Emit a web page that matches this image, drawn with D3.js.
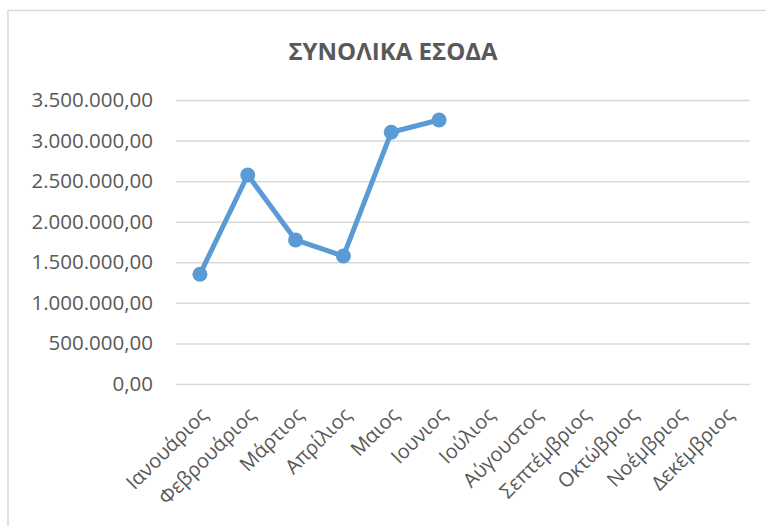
<!DOCTYPE html>
<html>
<head>
<meta charset="utf-8">
<script src="https://cdn.jsdelivr.net/npm/d3@7"></script>
<style>
  body { margin: 0; background: #fff; }
  text { font-family: "Open Sans", sans-serif; fill: #595959; }
</style>
</head>
<body>
<div id="chart"></div>
<script>
// months on the x axis
const months = ["Ιανουάριος", "Φεβρουάριος", "Μάρτιος", "Απρίλιος", "Μαιος", "Ιουνιος",
  "Ιούλιος", "Αύγουστος", "Σεπτέμβριος", "Οκτώβριος", "Νοέμβριος", "Δεκέμβριος"];

// income per month (only first six filled)
const income = [1352000, 2576000, 1775000, 1577000, 3102000, 3254000];

// y ticks
const yTicks = [0, 500000, 1000000, 1500000, 2000000, 2500000, 3000000, 3500000];

const title = "ΣΥΝΟΛΙΚΑ ΕΣΟΔΑ";

const W = 766, H = 526;
const margin = {top: 100, right: 16, bottom: 142, left: 176};

const svg = d3.select("#chart")
  .append("svg")
    .attr("width", W)
    .attr("height", H);

// chart border
svg.append("rect")
  .attr("x", 8).attr("y", 10.5)
  .attr("width", 800).attr("height", 600)
  .attr("fill", "none")
  .attr("stroke", "#d9d9d9")
  .attr("stroke-width", 1.5);

svg.append("text")
  .attr("x", 393).attr("y", 59.5)
  .attr("text-anchor", "middle")
  .attr("font-size", 24)
  .attr("font-weight", "bold")
  .text(title);

const x = d3.scaleBand()
  .domain(months)
  .range([margin.left, W - margin.right]);

const y = d3.scaleLinear()
  .domain([0, 3500000])
  .range([H - margin.bottom, margin.top]);

// greek number format: 3.500.000,00
const fmt = d3.formatLocale({decimal: ",", thousands: ".", grouping: [3], currency: ["", "€"]}).format(",.2f");

// grid + y labels
const yAxis = svg.append("g")
  .attr("transform", `translate(${margin.left},0)`)
  .call(d3.axisLeft(y).tickValues(yTicks).tickSize(-(W - margin.left - margin.right)).tickPadding(23).tickFormat(fmt));
yAxis.select(".domain").remove();
yAxis.selectAll(".tick line").attr("stroke", "#d9d9d9").attr("stroke-width", 1.5);
yAxis.selectAll(".tick text").attr("font-size", 20.5).attr("fill", "#595959")
  .attr("font-family", "Open Sans, sans-serif");

// x labels
const xAxis = svg.append("g")
  .attr("transform", `translate(0,${H - margin.bottom})`)
  .call(d3.axisBottom(x).tickSize(0));
xAxis.select(".domain").remove();
xAxis.selectAll(".tick text")
  .attr("font-size", 20)
  .attr("font-family", "Open Sans, sans-serif")
  .attr("fill", "#595959")
  .attr("text-anchor", "end")
  .attr("dy", 0)
  .attr("transform", "translate(7,30) rotate(-45)");

// line
const pts = income.map((v, i) => ({m: months[i], v: v}));
const line = d3.line()
  .x(d => x(d.m) + x.bandwidth() / 2)
  .y(d => y(d.v));

svg.append("path")
  .datum(pts)
  .attr("d", line)
  .attr("fill", "none")
  .attr("stroke", "#5b9bd5")
  .attr("stroke-width", 5)
  .attr("stroke-linejoin", "round");

svg.selectAll("circle")
  .data(pts)
  .join("circle")
    .attr("cx", d => x(d.m) + x.bandwidth() / 2)
    .attr("cy", d => y(d.v))
    .attr("r", 7.5)
    .attr("fill", "#5b9bd5");
</script>
</body>
</html>
